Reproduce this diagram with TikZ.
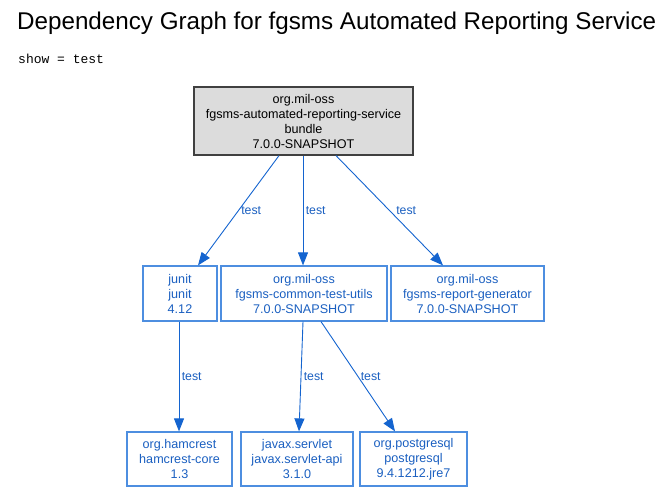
\documentclass[tikz,border=0pt]{standalone}
\usepackage{fontspec}
\setmainfont{Liberation Sans}
\setmonofont{Liberation Mono}
\usetikzlibrary{arrows.meta}
\definecolor{edgeblue}{HTML}{1464CF}
\definecolor{boxblue}{HTML}{4D8EE0}
\definecolor{textblue}{HTML}{1A5FC0}
\definecolor{rootgray}{HTML}{DCDCDC}
\tikzset{
   artifact/.style={draw=boxblue, line width=1.2pt, text=textblue, inner sep=0pt,
      align=center, font=\fontsize{12.6}{15}\selectfont},
   root/.style={draw=black!75, fill=rootgray, line width=1.2pt, inner sep=0pt,
      align=center, font=\fontsize{12.6}{15}\selectfont},
   dep/.style={draw=edgeblue, line width=0.9pt, -{Triangle[length=13pt,width=10pt]}},
   scope label/.style={text=textblue, font=\fontsize{12.3}{13}\selectfont, anchor=west}
}
\begin{document}
\begin{tikzpicture}[x=1pt, y=-1pt]
   \useasboundingbox (0,0) rectangle (671,492);

   \node[anchor=west, inner sep=0pt, font=\fontsize{24.2}{26}\selectfont] (title) at (17,23)
      {Dependency Graph for fgsms Automated Reporting Service};
   \node[anchor=west, inner sep=0pt, font=\ttfamily\fontsize{13}{14}\selectfont] (show) at (18,59)
      {show = test};

   \node[root, minimum width=219pt, minimum height=68pt] (service) at (303.5,121)
      {org.mil-oss\\fgsms-automated-reporting-service\\bundle\\7.0.0-SNAPSHOT};

   \node[artifact, minimum width=74pt, minimum height=55pt] (junit) at (180,293.5)
      {junit\\junit\\4.12};
   \node[artifact, minimum width=166pt, minimum height=55pt] (utils) at (304,293.5)
      {org.mil-oss\\fgsms-common-test-utils\\7.0.0-SNAPSHOT};
   \node[artifact, minimum width=153pt, minimum height=55pt] (generator) at (467.5,293.5)
      {org.mil-oss\\fgsms-report-generator\\7.0.0-SNAPSHOT};

   \node[artifact, minimum width=105pt, minimum height=54pt] (hamcrest) at (179.5,459)
      {org.hamcrest\\hamcrest-core\\1.3};
   \node[artifact, minimum width=112pt, minimum height=54pt] (servlet) at (297,459)
      {javax.servlet\\javax.servlet-api\\3.1.0};
   \node[artifact, minimum width=107pt, minimum height=54pt] (postgresql) at (413.5,459)
      {org.postgresql\\postgresql\\9.4.1212.jre7};

   % test scope edges
   \draw[dep] ([xshift=-24.5pt]service.south) -- ([xshift=18pt]junit.north)
      node[scope label, pos=0.5, xshift=-1pt] {test};
   \draw[dep] ([xshift=-0.5pt]service.south) -- ([xshift=-1pt]utils.north)
      node[scope label, pos=0.5, xshift=-1pt] {test};
   \draw[dep] ([xshift=32.5pt]service.south) -- ([xshift=-24.5pt]generator.north)
      node[scope label, pos=0.5, xshift=3pt] {test};

   \draw[dep] ([xshift=-1pt]junit.south) -- ([xshift=-0.5pt]hamcrest.north)
      node[scope label, pos=0.5, xshift=-1pt] {test};
   \draw[dep] ([xshift=-1pt]utils.south) -- ([xshift=2pt]servlet.north)
      node[scope label, pos=0.5, xshift=-1pt] {test};
   \draw[dep] ([xshift=17pt]utils.south) -- ([xshift=-18.5pt]postgresql.north)
      node[scope label, pos=0.5, xshift=-1pt] {test};
\end{tikzpicture}
\end{document}
